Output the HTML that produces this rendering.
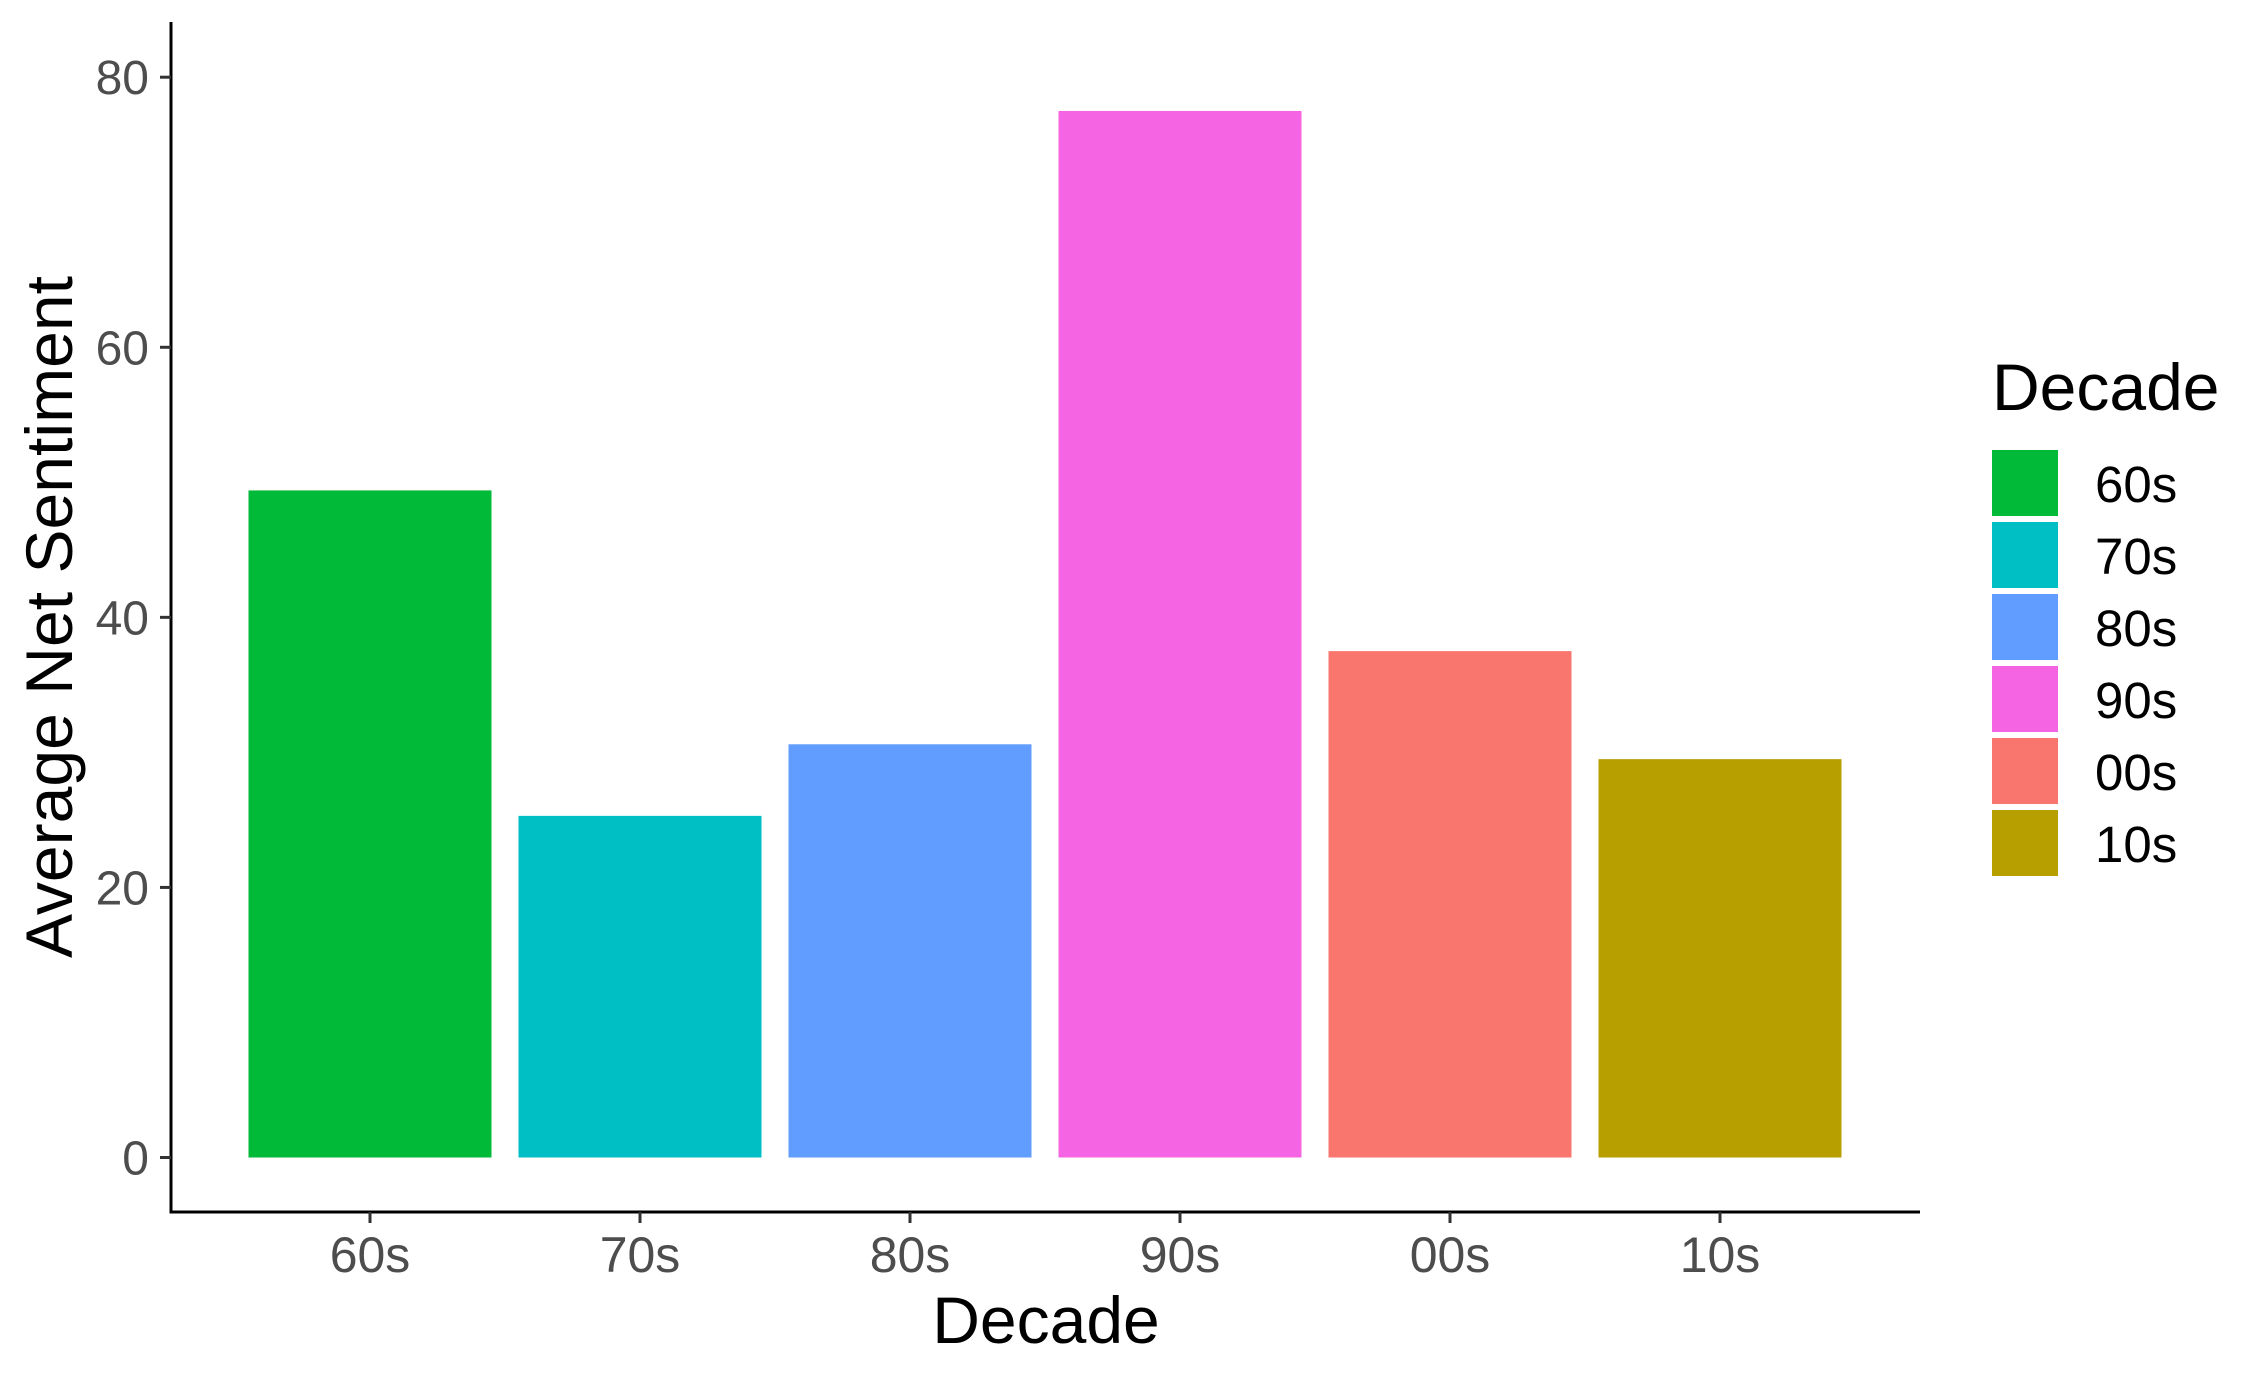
<!DOCTYPE html>
<html><head><meta charset="utf-8"><style>
html,body{margin:0;padding:0;background:#fff;}
svg{display:block;font-family:"Liberation Sans",Arial,sans-serif;}
</style></head><body>
<svg id="chart" width="2265" height="1375" viewBox="0 0 2265 1375" xmlns="http://www.w3.org/2000/svg">
<rect width="2265" height="1375" fill="#fff"/>
<g id="bars"></g>
<g id="axes"></g>
<g id="legend"></g>
<text x="1046" y="1343" font-size="66" text-anchor="middle" fill="#000">Decade</text>
<text transform="translate(72,617) rotate(-90)" font-size="66" text-anchor="middle" fill="#000" textLength="682">Average Net Sentiment</text>
</svg>
<script>
const categories = ["60s","70s","80s","90s","00s","10s"];
const values = [49.4, 25.3, 30.6, 77.5, 37.5, 29.5];
const colors = ["#00BA38","#00BFC4","#619CFF","#F564E3","#F8766D","#B79F00"];
const yTicks = [0, 20, 40, 60, 80];
const legendTitle = "Decade";

const NS = "http://www.w3.org/2000/svg";
const axisLeft = 171, axisRight = 1920, axisTop = 22, axisBottom = 1212;
const step = 270, firstCenter = 370, barW = 243;
const y0px = 1157.5, perUnit = (1157.5 - 77.2) / 80;
function xScale(i){ return firstCenter + i * step; }
function yScale(v){ return y0px - v * perUnit; }
function mk(tag, attrs, parent){
  const el = document.createElementNS(NS, tag);
  for (const k in attrs) el.setAttribute(k, attrs[k]);
  parent.appendChild(el);
  return el;
}
const bars = document.getElementById('bars');
const axes = document.getElementById('axes');
const legend = document.getElementById('legend');

categories.forEach((c, i) => {
  const r = mk('rect', {x: xScale(i) - barW/2, y: yScale(values[i]), width: barW, height: yScale(0) - yScale(values[i]), fill: colors[i]}, bars);
  
  
});

const yl = mk('line', {x1: axisLeft, y1: axisTop, x2: axisLeft, y2: axisBottom + 1.5, stroke: '#000', 'stroke-width': 3}, axes);


const xl = mk('line', {x1: axisLeft - 1.5, y1: axisBottom, x2: axisRight, y2: axisBottom, stroke: '#000', 'stroke-width': 3}, axes);



yTicks.forEach(t => {
  const y = yScale(t);
  const tk = mk('line', {x1: axisLeft - 11, y1: y, x2: axisLeft, y2: y, stroke: '#333', 'stroke-width': 3}, axes);
  
  
  const tx = mk('text', {x: 149, y: y + 17, 'font-size': 48, 'text-anchor': 'end', fill: '#4d4d4d'}, axes);
  tx.textContent = t;
  
  
});

categories.forEach((c, i) => {
  const x = xScale(i);
  const tk = mk('line', {x1: x, y1: axisBottom, x2: x, y2: axisBottom + 11, stroke: '#333', 'stroke-width': 3}, axes);
  
  
  const tx = mk('text', {x: x, y: 1272, 'font-size': 50, 'text-anchor': 'middle', fill: '#4d4d4d'}, axes);
  tx.textContent = c;
  
  
});

const lt = mk('text', {x: 1992, y: 410, 'font-size': 66, fill: '#000'}, legend);
lt.textContent = legendTitle;


categories.forEach((c, i) => {
  const top = 450 + i * 72;
  const k = mk('rect', {x: 1992, y: top, width: 66, height: 66, fill: colors[i]}, legend);
  
  
  const t = mk('text', {x: 2095, y: top + 52, 'font-size': 51, fill: '#000'}, legend);
  t.textContent = c;
  
  
});
</script>
</body></html>
